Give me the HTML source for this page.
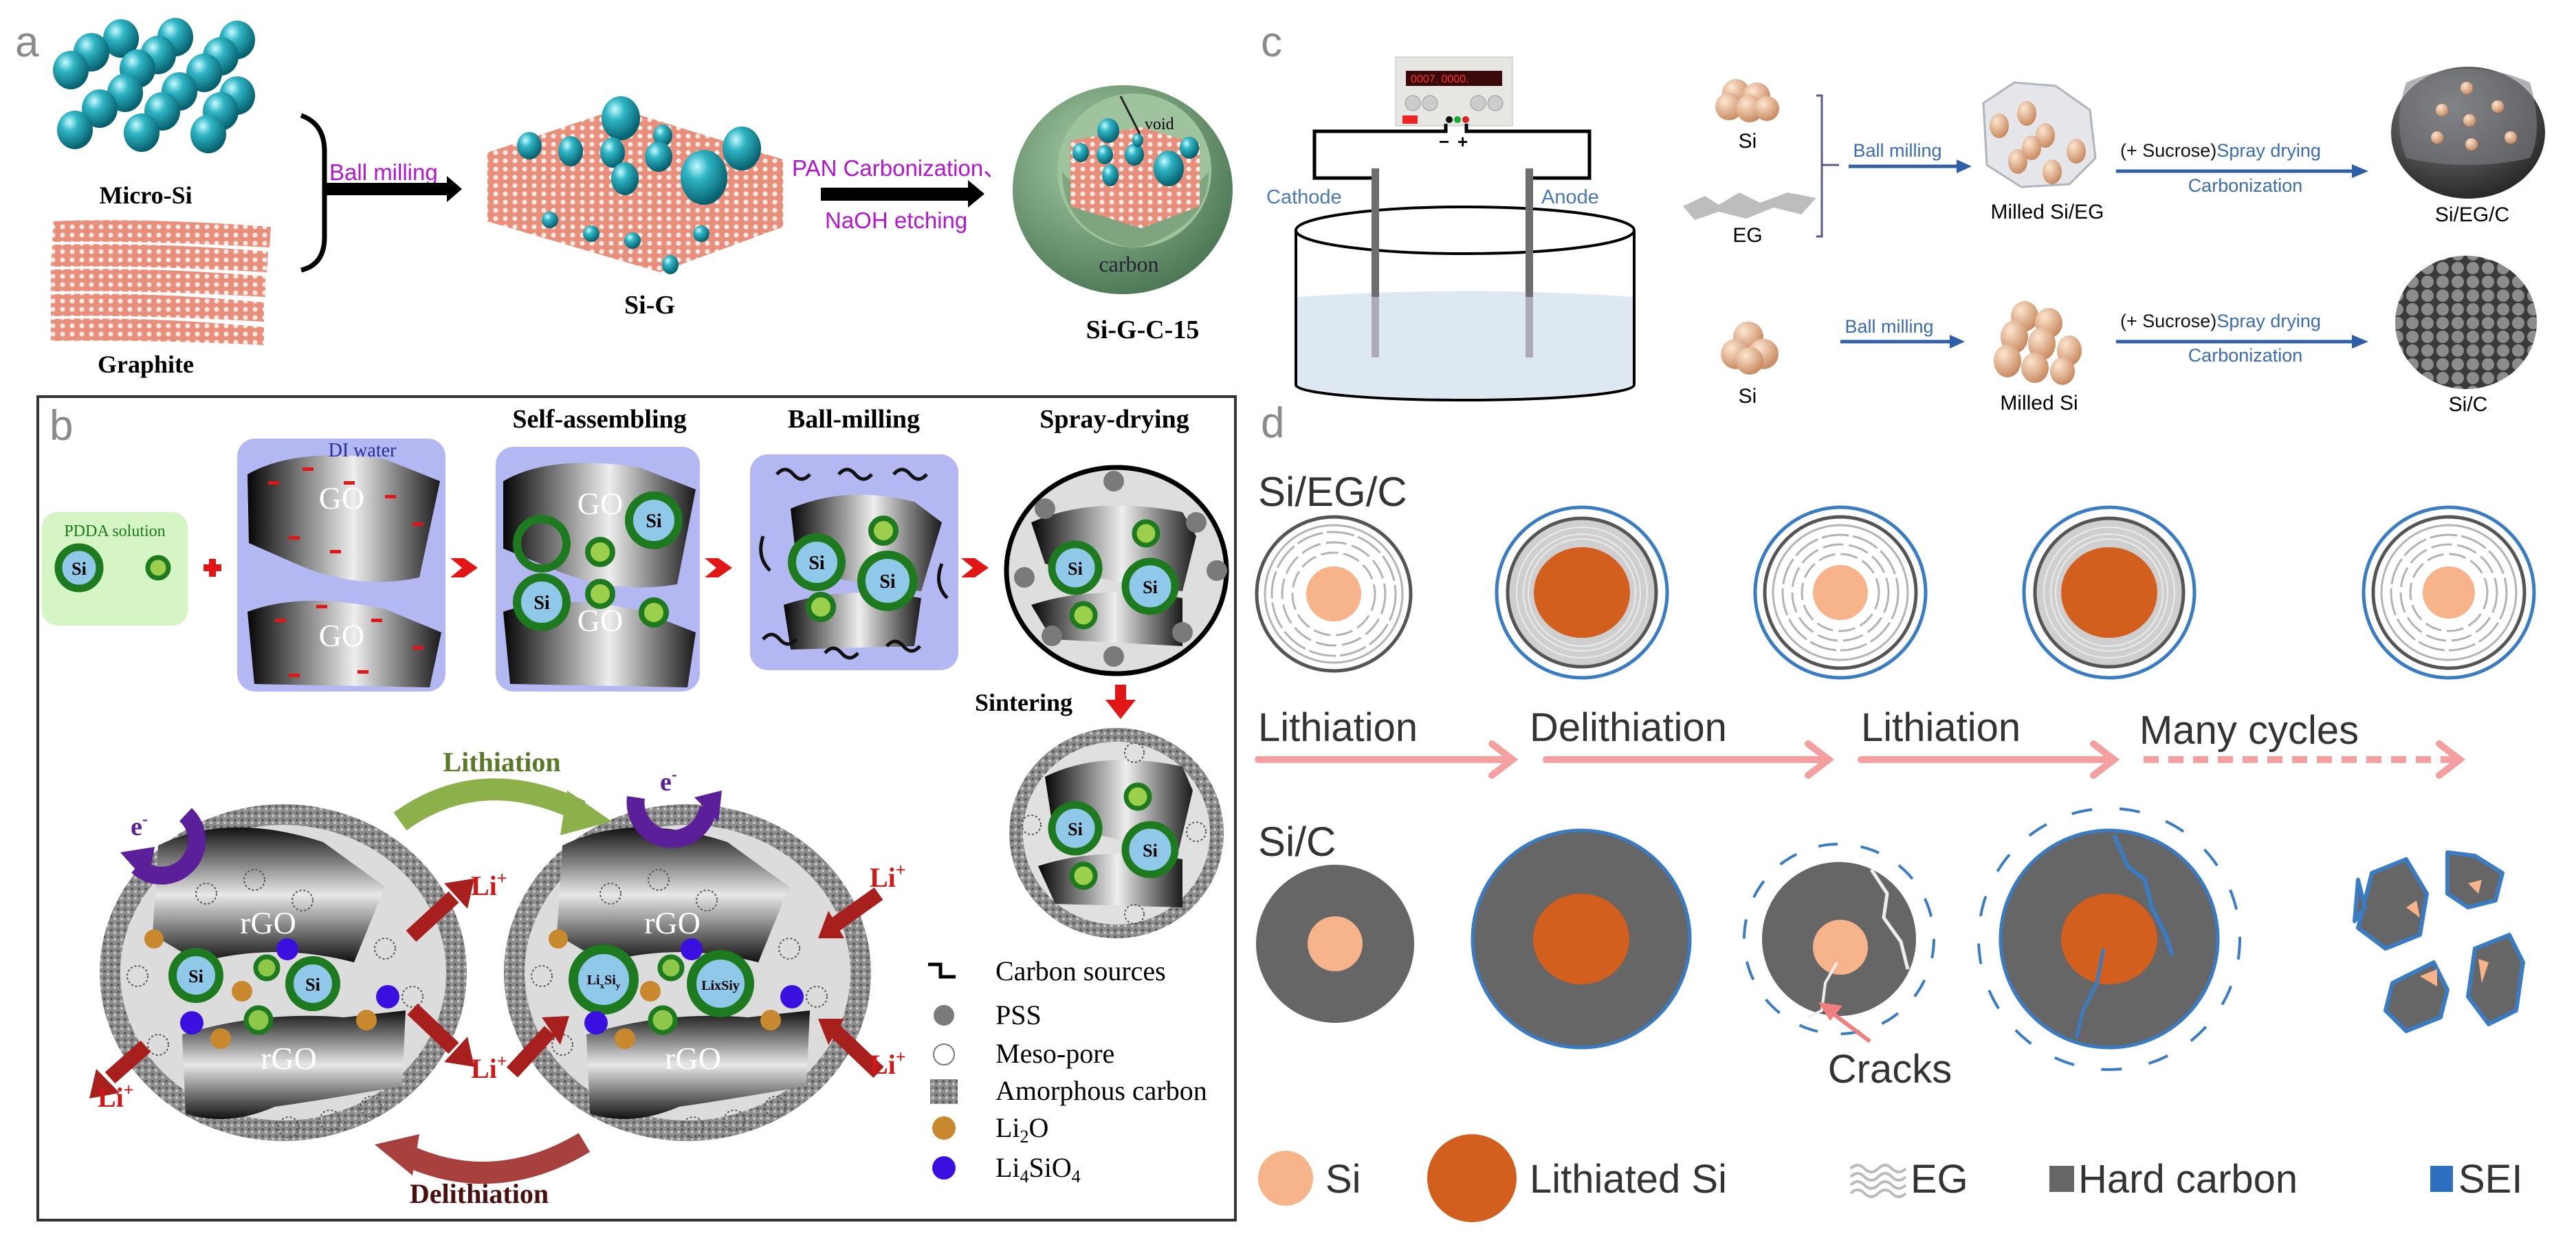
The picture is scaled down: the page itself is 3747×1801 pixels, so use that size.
<!DOCTYPE html>
<html><head><meta charset="utf-8"><style>
html,body{margin:0;padding:0;background:#fff;}
svg{display:block;}
.serif{font-family:"Liberation Serif",serif;}
.sans{font-family:"Liberation Sans",sans-serif;}
</style></head><body>
<svg width="3747" height="1801" viewBox="0 0 3747 1801" xmlns="http://www.w3.org/2000/svg">
<defs>
<radialGradient id="cy" cx="35%" cy="30%" r="70%"><stop offset="0" stop-color="#c8fbff"/><stop offset="0.35" stop-color="#2fb5c4"/><stop offset="1" stop-color="#06606e"/></radialGradient>
<radialGradient id="pk" cx="35%" cy="30%" r="70%"><stop offset="0" stop-color="#fde6d0"/><stop offset="1" stop-color="#c98c62"/></radialGradient>
<radialGradient id="gr" cx="40%" cy="35%" r="70%"><stop offset="0" stop-color="#a9cfa8"/><stop offset="1" stop-color="#4a7552"/></radialGradient>
<radialGradient id="ds" cx="40%" cy="30%" r="70%"><stop offset="0" stop-color="#8a8a8a"/><stop offset="1" stop-color="#2a2a2a"/></radialGradient>
<pattern id="hex" width="14" height="12" patternUnits="userSpaceOnUse"><rect width="14" height="12" fill="#e98e7a"/><circle cx="7" cy="6" r="3.6" fill="#fde9e4"/></pattern>
<pattern id="amo" width="10" height="10" patternUnits="userSpaceOnUse"><rect width="10" height="10" fill="#8c8c8c"/><circle cx="2" cy="3" r="2" fill="#5a5a5a"/><circle cx="7" cy="7" r="2" fill="#c4c4c4"/></pattern>
<pattern id="balls" width="22" height="20" patternUnits="userSpaceOnUse"><rect width="22" height="20" fill="#3a3a3a"/><circle cx="11" cy="10" r="9" fill="#8c8c8c"/></pattern>
<linearGradient id="go" x1="0" y1="0" x2="1" y2="0"><stop offset="0" stop-color="#050505"/><stop offset="0.55" stop-color="#eeeeee"/><stop offset="1" stop-color="#1a1a1a"/></linearGradient>
<linearGradient id="go2" x1="0" y1="0" x2="0" y2="1"><stop offset="0" stop-color="#111"/><stop offset="0.5" stop-color="#e8e8e8"/><stop offset="1" stop-color="#111"/></linearGradient>
</defs>

<!-- ============ PANEL A ============ -->
<text x="22" y="82" class="sans" font-size="62" fill="#8a8a8a">a</text>
<g fill="url(#cy)">
<ellipse cx="176" cy="56" rx="26" ry="28"/><ellipse cx="255" cy="54" rx="26" ry="28"/><ellipse cx="345" cy="58" rx="26" ry="28"/>
<ellipse cx="133" cy="76" rx="26" ry="28"/><ellipse cx="230" cy="80" rx="26" ry="28"/><ellipse cx="321" cy="82" rx="26" ry="28"/>
<ellipse cx="103" cy="102" rx="26" ry="28"/><ellipse cx="200" cy="100" rx="26" ry="28"/><ellipse cx="297" cy="106" rx="26" ry="28"/>
<ellipse cx="182" cy="135" rx="26" ry="28"/><ellipse cx="261" cy="133" rx="26" ry="28"/><ellipse cx="345" cy="139" rx="26" ry="28"/>
<ellipse cx="145" cy="158" rx="26" ry="28"/><ellipse cx="236" cy="162" rx="26" ry="28"/><ellipse cx="321" cy="162" rx="26" ry="28"/>
<ellipse cx="109" cy="189" rx="26" ry="28"/><ellipse cx="206" cy="193" rx="26" ry="28"/><ellipse cx="303" cy="195" rx="26" ry="28"/>
</g>
<text x="212" y="296" text-anchor="middle" class="serif" font-weight="bold" font-size="36">Micro-Si</text>
<g fill="url(#hex)">
<path d="M78 322 Q200 316 394 330 L392 360 Q220 350 76 352 Z"/>
<path d="M76 356 Q220 352 390 366 L388 396 Q220 386 74 388 Z"/>
<path d="M74 392 Q220 388 386 402 L386 432 Q220 422 74 424 Z"/>
<path d="M74 428 Q220 424 384 440 L384 468 Q220 458 74 460 Z"/>
<path d="M74 464 Q220 460 384 476 L384 502 Q220 494 74 496 Z"/>
</g>
<text x="212" y="542" text-anchor="middle" class="serif" font-weight="bold" font-size="36">Graphite</text>
<path d="M438 168 Q472 180 472 220 L472 345 Q472 385 438 393" fill="none" stroke="#000" stroke-width="7"/>
<text x="479" y="262" class="sans" font-size="33" fill="#b514d6">Ball milling</text>
<rect x="473" y="266" width="180" height="18" fill="#000"/><polygon points="650,256 672,275 650,294" fill="#000"/>
<polygon points="709,222 900,158 1139,232 1139,330 960,396 709,322" fill="url(#hex)"/>
<g fill="url(#cy)">
<ellipse cx="903" cy="172" rx="28" ry="32"/><ellipse cx="770" cy="212" rx="18" ry="20"/><ellipse cx="830" cy="220" rx="18" ry="22"/><ellipse cx="891" cy="222" rx="18" ry="22"/><ellipse cx="964" cy="197" rx="14" ry="16"/><ellipse cx="958" cy="228" rx="20" ry="22"/><ellipse cx="1079" cy="216" rx="28" ry="32"/><ellipse cx="1024" cy="258" rx="34" ry="40"/><ellipse cx="909" cy="260" rx="20" ry="24"/>
<ellipse cx="800" cy="320" rx="12" ry="12"/><ellipse cx="860" cy="340" rx="12" ry="12"/><ellipse cx="920" cy="350" rx="12" ry="12"/><ellipse cx="975" cy="385" rx="12" ry="14"/><ellipse cx="1020" cy="340" rx="12" ry="12"/>
</g>
<text x="945" y="456" text-anchor="middle" class="serif" font-weight="bold" font-size="38">Si-G</text>
<text x="1152" y="256" class="sans" font-size="33" fill="#b514d6">PAN Carbonization、</text>
<rect x="1194" y="273" width="218" height="19" fill="#000"/><polygon points="1408,262 1432,282 1408,302" fill="#000"/>
<text x="1200" y="332" class="sans" font-size="33" fill="#b514d6">NaOH etching</text>
<ellipse cx="1633" cy="276" rx="160" ry="152" fill="url(#gr)"/>
<ellipse cx="1650" cy="248" rx="112" ry="112" fill="#9fc39c"/>
<path d="M1545 250 Q1650 370 1758 250 Q1760 330 1650 362 Q1545 340 1545 250Z" fill="#7ea57d"/>
<polygon points="1557,205 1660,185 1745,210 1745,300 1660,332 1557,300" fill="url(#hex)"/>
<g fill="url(#cy)"><ellipse cx="1612" cy="190" rx="16" ry="18"/><ellipse cx="1572" cy="222" rx="12" ry="14"/><ellipse cx="1607" cy="225" rx="12" ry="14"/><ellipse cx="1650" cy="225" rx="14" ry="16"/><ellipse cx="1700" cy="245" rx="22" ry="26"/><ellipse cx="1615" cy="255" rx="12" ry="16"/><ellipse cx="1730" cy="215" rx="14" ry="16"/><ellipse cx="1655" cy="204" rx="8" ry="10"/></g>
<line x1="1630" y1="140" x2="1658" y2="195" stroke="#222" stroke-width="3"/>
<text x="1665" y="188" class="serif" font-size="24">void</text>
<text x="1642" y="395" text-anchor="middle" class="serif" font-size="32" fill="#223">carbon</text>
<text x="1662" y="492" text-anchor="middle" class="serif" font-weight="bold" font-size="38">Si-G-C-15</text>

<!-- ============ PANEL B ============ -->
<rect x="55" y="577" width="1742" height="1198" fill="none" stroke="#333" stroke-width="4"/>
<text x="72" y="640" class="sans" font-size="62" fill="#8a8a8a">b</text>
<text x="872" y="622" text-anchor="middle" class="serif" font-weight="bold" font-size="38">Self-assembling</text>
<text x="1242" y="622" text-anchor="middle" class="serif" font-weight="bold" font-size="38">Ball-milling</text>
<text x="1621" y="622" text-anchor="middle" class="serif" font-weight="bold" font-size="38">Spray-drying</text>

<rect x="61" y="745" width="212" height="165" rx="22" fill="#d5f5c5"/>
<text x="167" y="780" text-anchor="middle" class="serif" font-size="24" fill="#1a7a1a">PDDA solution</text>
<circle cx="115" cy="826" r="30" fill="#8fc8e8" stroke="#1e7a1e" stroke-width="11"/><text x="115" y="836" text-anchor="middle" class="serif" font-weight="bold" font-size="26">Si</text>
<circle cx="230" cy="826" r="15" fill="#9ccf4c" stroke="#1e7a1e" stroke-width="7"/>
<path d="M296 826 h26 M309 813 v26" stroke="#e21616" stroke-width="10"/>

<g id="goBox">
<rect x="345" y="638" width="303" height="368" rx="26" fill="#b4b8f2"/>
<path d="M360 690 Q430 650 560 668 L640 700 L610 840 Q520 860 430 820 L362 790 Z" fill="url(#go)"/>
<path d="M360 890 Q440 860 560 886 L642 920 L625 1000 L370 995 Z" fill="url(#go)"/>
</g>
<text x="527" y="664" text-anchor="middle" class="serif" font-size="28" fill="#2a2a9a">DI water</text>
<text x="497" y="740" text-anchor="middle" class="serif" font-size="46" fill="#fff">GO</text>
<text x="497" y="940" text-anchor="middle" class="serif" font-size="46" fill="#fff">GO</text>
<g fill="#e21616"><rect x="390" y="700" width="16" height="5"/><rect x="440" y="680" width="16" height="5"/><rect x="500" y="700" width="16" height="5"/><rect x="560" y="720" width="16" height="5"/><rect x="600" y="760" width="16" height="5"/><rect x="420" y="780" width="16" height="5"/><rect x="480" y="800" width="16" height="5"/><rect x="400" y="900" width="16" height="5"/><rect x="460" y="880" width="16" height="5"/><rect x="540" y="900" width="16" height="5"/><rect x="600" y="940" width="16" height="5"/><rect x="420" y="980" width="16" height="5"/><rect x="520" y="975" width="16" height="5"/></g>

<rect x="721" y="650" width="297" height="356" rx="26" fill="#b4b8f2"/>
<path d="M732 700 Q800 660 930 680 L1012 712 L985 850 Q890 866 800 826 L732 798 Z" fill="url(#go)"/>
<path d="M732 890 Q810 862 930 888 L1012 920 L1000 1000 L742 995 Z" fill="url(#go)"/>
<text x="873" y="748" text-anchor="middle" class="serif" font-size="46" fill="#fff">GO</text>
<text x="873" y="918" text-anchor="middle" class="serif" font-size="46" fill="#fff">GO</text>
<circle cx="951" cy="757" r="36" fill="#8fc8e8" stroke="#1e7a1e" stroke-width="12"/><text x="951" y="767" text-anchor="middle" class="serif" font-weight="bold" font-size="28">Si</text>
<circle cx="788" cy="791" r="36" fill="none" stroke="#1e7a1e" stroke-width="12"/>
<circle cx="788" cy="876" r="36" fill="#8fc8e8" stroke="#1e7a1e" stroke-width="12"/><text x="788" y="886" text-anchor="middle" class="serif" font-weight="bold" font-size="28">Si</text>
<circle cx="873" cy="803" r="18" fill="#9ccf4c" stroke="#1e7a1e" stroke-width="8"/><circle cx="873" cy="864" r="18" fill="#9ccf4c" stroke="#1e7a1e" stroke-width="8"/><circle cx="951" cy="891" r="18" fill="#9ccf4c" stroke="#1e7a1e" stroke-width="8"/>

<rect x="1091" y="661" width="303" height="314" rx="26" fill="#b4b8f2"/>
<path d="M1150 740 Q1230 705 1330 730 L1370 760 L1340 860 Q1250 850 1160 830 Z" fill="url(#go)"/>
<path d="M1140 880 Q1230 850 1340 870 L1330 940 L1150 945 Z" fill="url(#go)"/>
<g fill="none" stroke="#111" stroke-width="5"><path d="M1130 690 q12 -14 24 0 t24 0"/><path d="M1220 690 q12 -14 24 0 t24 0"/><path d="M1300 690 q12 -14 24 0 t24 0"/><path d="M1110 780 q-10 30 10 50"/><path d="M1370 820 q-12 30 8 50"/><path d="M1110 930 q12 -14 24 0 t24 0"/><path d="M1200 950 q12 -14 24 0 t24 0"/><path d="M1290 940 q12 -14 24 0 t24 0"/></g>
<circle cx="1188" cy="818" r="36" fill="#8fc8e8" stroke="#1e7a1e" stroke-width="12"/><text x="1188" y="828" text-anchor="middle" class="serif" font-weight="bold" font-size="28">Si</text>
<circle cx="1291" cy="845" r="38" fill="#8fc8e8" stroke="#1e7a1e" stroke-width="12"/><text x="1291" y="855" text-anchor="middle" class="serif" font-weight="bold" font-size="28">Si</text>
<circle cx="1285" cy="772" r="18" fill="#9ccf4c" stroke="#1e7a1e" stroke-width="8"/><circle cx="1194" cy="883" r="18" fill="#9ccf4c" stroke="#1e7a1e" stroke-width="8"/>

<g fill="#e21616">
<polygon points="655,812 675,812 695,826 675,840 655,840 672,826"/>
<polygon points="1025,812 1045,812 1065,826 1045,840 1025,840 1042,826"/>
<polygon points="1398,812 1418,812 1438,826 1418,840 1398,840 1415,826"/>
</g>

<ellipse cx="1624" cy="830" rx="160" ry="150" fill="#dedede" stroke="#000" stroke-width="7"/>
<path d="M1500 760 Q1590 720 1720 745 L1740 780 L1720 860 Q1620 850 1520 820 Z" fill="url(#go)"/>
<path d="M1500 880 Q1590 850 1720 870 L1720 940 L1530 930 Z" fill="url(#go)"/>
<g fill="#7a7a7a"><circle cx="1620" cy="700" r="15"/><circle cx="1520" cy="740" r="15"/><circle cx="1740" cy="760" r="15"/><circle cx="1490" cy="840" r="15"/><circle cx="1770" cy="830" r="15"/><circle cx="1530" cy="925" r="15"/><circle cx="1720" cy="920" r="15"/><circle cx="1620" cy="955" r="15"/></g>
<circle cx="1564" cy="826" r="34" fill="#8fc8e8" stroke="#1e7a1e" stroke-width="11"/><text x="1564" y="836" text-anchor="middle" class="serif" font-weight="bold" font-size="26">Si</text>
<circle cx="1673" cy="853" r="36" fill="#8fc8e8" stroke="#1e7a1e" stroke-width="11"/><text x="1673" y="863" text-anchor="middle" class="serif" font-weight="bold" font-size="26">Si</text>
<circle cx="1667" cy="776" r="17" fill="#9ccf4c" stroke="#1e7a1e" stroke-width="7"/><circle cx="1576" cy="895" r="17" fill="#9ccf4c" stroke="#1e7a1e" stroke-width="7"/>

<text x="1418" y="1034" class="serif" font-weight="bold" font-size="36">Sintering</text>
<polygon points="1622,996 1638,996 1638,1018 1652,1018 1630,1046 1608,1018 1622,1018" fill="#e21616"/>
<ellipse cx="1624" cy="1212" rx="146" ry="143" fill="#e0e0e0" stroke="url(#amo)" stroke-width="20"/>
<path d="M1520 1130 Q1600 1090 1720 1115 L1735 1150 L1715 1235 Q1620 1225 1530 1195 Z" fill="url(#go)"/>
<path d="M1510 1260 Q1600 1230 1720 1250 L1720 1320 L1535 1315 Z" fill="url(#go)"/>
<circle cx="1564" cy="1205" r="34" fill="#8fc8e8" stroke="#1e7a1e" stroke-width="11"/><text x="1564" y="1215" text-anchor="middle" class="serif" font-weight="bold" font-size="26">Si</text>
<circle cx="1673" cy="1236" r="36" fill="#8fc8e8" stroke="#1e7a1e" stroke-width="11"/><text x="1673" y="1246" text-anchor="middle" class="serif" font-weight="bold" font-size="26">Si</text>
<circle cx="1655" cy="1159" r="17" fill="#9ccf4c" stroke="#1e7a1e" stroke-width="7"/><circle cx="1576" cy="1274" r="17" fill="#9ccf4c" stroke="#1e7a1e" stroke-width="7"/>
<g fill="none" stroke="#555" stroke-width="2" stroke-dasharray="3 3"><circle cx="1650" cy="1095" r="14"/><circle cx="1500" cy="1200" r="14"/><circle cx="1740" cy="1210" r="14"/><circle cx="1650" cy="1330" r="14"/></g>

<!-- big circles -->
<g id="bigL">
<ellipse cx="412" cy="1415" rx="252" ry="230" fill="#dcdcdc" stroke="url(#amo)" stroke-width="30"/>
<path d="M230 1230 Q330 1180 470 1225 L560 1290 L515 1400 Q400 1370 290 1400 L222 1360 Z" fill="url(#go2)"/>
<path d="M265 1505 Q380 1470 500 1480 L590 1470 L585 1580 Q470 1600 400 1610 Q330 1640 270 1620 Z" fill="url(#go2)"/>
<g fill="none" stroke="#555" stroke-width="2" stroke-dasharray="3 3"><circle cx="300" cy="1300" r="15"/><circle cx="370" cy="1280" r="15"/><circle cx="440" cy="1310" r="15"/><circle cx="560" cy="1380" r="15"/><circle cx="200" cy="1420" r="15"/><circle cx="230" cy="1520" r="15"/><circle cx="600" cy="1450" r="15"/><circle cx="420" cy="1640" r="15"/><circle cx="480" cy="1630" r="15"/><circle cx="540" cy="1610" r="15"/></g>
</g>
<g fill="#fff" class="serif" font-size="46" text-anchor="middle"><text x="390" y="1358">rGO</text><text x="420" y="1555">rGO</text></g>
<circle cx="285" cy="1419" r="34" fill="#8fc8e8" stroke="#1e7a1e" stroke-width="12"/><text x="285" y="1429" text-anchor="middle" class="serif" font-weight="bold" font-size="26">Si</text>
<circle cx="455" cy="1431" r="34" fill="#8fc8e8" stroke="#1e7a1e" stroke-width="12"/><text x="455" y="1441" text-anchor="middle" class="serif" font-weight="bold" font-size="26">Si</text>
<g fill="#c8882e"><circle cx="352" cy="1442" r="15"/><circle cx="321" cy="1511" r="15"/><circle cx="533" cy="1484" r="15"/><circle cx="224" cy="1366" r="14"/></g>
<g fill="#8dc84a" stroke="#1e7a1e" stroke-width="7"><circle cx="388" cy="1408" r="16"/><circle cx="376" cy="1484" r="18"/></g>
<g fill="#3a10e0"><circle cx="418" cy="1381" r="16"/><circle cx="564" cy="1450" r="17"/><circle cx="279" cy="1488" r="17"/></g>

<ellipse cx="1000" cy="1415" rx="252" ry="230" fill="#dcdcdc" stroke="url(#amo)" stroke-width="30"/>
<path d="M818 1230 Q918 1180 1058 1225 L1148 1290 L1103 1400 Q988 1370 878 1400 L810 1360 Z" fill="url(#go2)"/>
<path d="M853 1505 Q968 1470 1088 1480 L1178 1470 L1173 1580 Q1058 1600 988 1610 Q918 1640 858 1620 Z" fill="url(#go2)"/>
<g fill="none" stroke="#555" stroke-width="2" stroke-dasharray="3 3"><circle cx="888" cy="1300" r="15"/><circle cx="958" cy="1280" r="15"/><circle cx="1028" cy="1310" r="15"/><circle cx="1148" cy="1380" r="15"/><circle cx="788" cy="1420" r="15"/><circle cx="818" cy="1520" r="15"/><circle cx="1188" cy="1450" r="15"/><circle cx="1008" cy="1640" r="15"/><circle cx="1068" cy="1630" r="15"/><circle cx="1128" cy="1610" r="15"/></g>
<g fill="#fff" class="serif" font-size="46" text-anchor="middle"><text x="978" y="1358">rGO</text><text x="1008" y="1555">rGO</text></g>
<circle cx="878" cy="1425" r="44" fill="#8fc8e8" stroke="#1e7a1e" stroke-width="14"/><text x="878" y="1432" text-anchor="middle" class="serif" font-weight="bold" font-size="20">Li<tspan font-size="13" dy="6">x</tspan><tspan dy="-6">Si</tspan><tspan font-size="13" dy="6">y</tspan></text>
<circle cx="1048" cy="1431" r="42" fill="#8fc8e8" stroke="#1e7a1e" stroke-width="14"/><text x="1048" y="1440" text-anchor="middle" class="serif" font-weight="bold" font-size="20">LixSiy</text>
<g fill="#c8882e"><circle cx="946" cy="1442" r="15"/><circle cx="909" cy="1511" r="15"/><circle cx="1121" cy="1484" r="15"/><circle cx="812" cy="1366" r="14"/></g>
<g fill="#8dc84a" stroke="#1e7a1e" stroke-width="7"><circle cx="976" cy="1408" r="16"/><circle cx="964" cy="1484" r="18"/></g>
<g fill="#3a10e0"><circle cx="1006" cy="1381" r="16"/><circle cx="1152" cy="1450" r="17"/><circle cx="867" cy="1488" r="17"/></g>

<!-- Li+ arrows -->
<g stroke="#a8201e" stroke-width="22" fill="none">
<line x1="598" y1="1362" x2="660" y2="1305"/><line x1="600" y1="1468" x2="660" y2="1525"/><line x1="212" y1="1522" x2="160" y2="1568"/>
<line x1="1278" y1="1300" x2="1215" y2="1345"/><line x1="1278" y1="1560" x2="1215" y2="1500"/><line x1="745" y1="1560" x2="800" y2="1500"/>
</g>
<g fill="#a8201e">
<polygon points="646,1285 690,1278 680,1322"/><polygon points="646,1545 690,1552 680,1508"/><polygon points="174,1590 130,1598 140,1555"/>
<polygon points="1228,1365 1190,1365 1205,1325"/><polygon points="1228,1482 1190,1482 1205,1520"/><polygon points="788,1480 828,1478 815,1520"/>
</g>
<g class="serif" font-weight="bold" font-size="40" fill="#d01818">
<text x="685" y="1302">Li<tspan font-size="26" dy="-16">+</tspan></text>
<text x="142" y="1610">Li<tspan font-size="26" dy="-16">+</tspan></text>
<text x="685" y="1568">Li<tspan font-size="26" dy="-16">+</tspan></text>
<text x="1265" y="1290">Li<tspan font-size="26" dy="-16">+</tspan></text>
<text x="1265" y="1562">Li<tspan font-size="26" dy="-16">+</tspan></text>
</g>
<!-- e- arcs -->
<path d="M270 1185 A48 48 0 1 1 200 1260" fill="none" stroke="#5b1f9a" stroke-width="26"/><polygon points="175,1240 215,1285 225,1232" fill="#5b1f9a"/>
<text x="190" y="1215" class="serif" font-weight="bold" font-size="38" fill="#5b1f9a">e<tspan font-size="24" dy="-16">-</tspan></text>
<path d="M925 1160 A50 50 0 1 0 1030 1175" fill="none" stroke="#5b1f9a" stroke-width="26"/><polygon points="1010,1160 1050,1150 1045,1195" fill="#5b1f9a"/>
<text x="960" y="1150" class="serif" font-weight="bold" font-size="38" fill="#5b1f9a">e<tspan font-size="24" dy="-16">-</tspan></text>
<!-- lithiation / delithiation -->
<text x="730" y="1122" text-anchor="middle" class="serif" font-weight="bold" font-size="40" fill="#5a7a2a">Lithiation</text>
<path d="M582 1195 Q700 1110 845 1180" fill="none" stroke="#8cb04a" stroke-width="32"/><polygon points="825,1150 890,1195 815,1215" fill="#8cb04a"/>
<path d="M850 1662 Q720 1740 590 1680" fill="none" stroke="#a8413e" stroke-width="32"/><polygon points="610,1650 545,1665 600,1710" fill="#a8413e"/>
<text x="697" y="1750" text-anchor="middle" class="serif" font-weight="bold" font-size="40" fill="#4a1010">Delithiation</text>
<!-- legend -->
<path d="M1350 1403 h18 v18 h22" fill="none" stroke="#000" stroke-width="5"/>
<circle cx="1373" cy="1477" r="15" fill="#7a7a7a"/>
<circle cx="1373" cy="1534" r="15" fill="#fff" stroke="#777" stroke-width="2"/>
<rect x="1353" y="1570" width="40" height="36" fill="url(#amo)"/>
<circle cx="1373" cy="1641" r="17" fill="#c8882e"/>
<circle cx="1373" cy="1699" r="17" fill="#3a10e0"/>
<g class="serif" font-size="40">
<text x="1448" y="1426">Carbon sources</text><text x="1448" y="1490">PSS</text><text x="1448" y="1546">Meso-pore</text><text x="1448" y="1600">Amorphous carbon</text>
<text x="1448" y="1654">Li<tspan font-size="26" dy="8">2</tspan><tspan dy="-8">O</tspan></text>
<text x="1448" y="1712">Li<tspan font-size="26" dy="8">4</tspan><tspan dy="-8">SiO</tspan><tspan font-size="26" dy="8">4</tspan></text>
</g>

<!-- ============ PANEL C ============ -->
<text x="1834" y="82" class="sans" font-size="62" fill="#8a8a8a">c</text>
<rect x="2030" y="83" width="170" height="100" fill="#e6e6e2" stroke="#bbb"/>
<rect x="2045" y="103" width="140" height="22" fill="#3a0a0a"/><text x="2052" y="120" class="sans" font-size="16" fill="#f33">0007. 0000.</text>
<circle cx="2055" cy="150" r="11" fill="#ccc" stroke="#999"/><circle cx="2080" cy="150" r="11" fill="#ccc" stroke="#999"/><circle cx="2150" cy="150" r="11" fill="#ccc" stroke="#999"/><circle cx="2175" cy="150" r="11" fill="#ccc" stroke="#999"/>
<rect x="2040" y="168" width="22" height="12" fill="#e22"/><circle cx="2108" cy="174" r="5" fill="#111"/><circle cx="2120" cy="174" r="5" fill="#1a3"/><circle cx="2132" cy="174" r="5" fill="#d22"/>
<path d="M2103 180 V191 H1912 V259 H2000 M2133 180 V191 H2312 V259 H2224" fill="none" stroke="#000" stroke-width="5"/>
<text x="2093" y="215" class="sans" font-size="26" font-weight="bold">−</text><text x="2120" y="215" class="sans" font-size="26" font-weight="bold">+</text>
<text x="1842" y="296" class="sans" font-size="29" fill="#4a78b8">Cathode</text>
<text x="2242" y="296" class="sans" font-size="29" fill="#4a78b8">Anode</text>
<path d="M1887 432 Q2131 415 2375 432 V560 A246 22 0 0 1 1887 560 Z" fill="#dde8f3"/>
<ellipse cx="2131" cy="335" rx="246" ry="34" fill="none" stroke="#000" stroke-width="4"/>
<path d="M1885 335 V560 A246 22 0 0 0 2377 560 V335" fill="none" stroke="#000" stroke-width="4"/>
<rect x="1995" y="245" width="11" height="275" fill="#6e6e6e"/><rect x="2219" y="245" width="11" height="275" fill="#6e6e6e"/>
<rect x="1995" y="432" width="11" height="88" fill="#aab"/><rect x="2219" y="432" width="11" height="88" fill="#aab"/>
<!-- row1 -->
<g fill="url(#pk)"><circle cx="2525" cy="135" r="20"/><circle cx="2555" cy="140" r="20"/><circle cx="2515" cy="155" r="20"/><circle cx="2545" cy="158" r="20"/><circle cx="2570" cy="158" r="18"/></g>
<text x="2542" y="215" text-anchor="middle" class="sans" font-size="30">Si</text>
<path d="M2448 300 L2480 285 L2500 298 L2530 280 L2560 295 L2600 280 L2642 288 L2620 312 L2580 302 L2540 318 L2500 308 L2465 320 Z" fill="#bdbdbd"/>
<text x="2542" y="352" text-anchor="middle" class="sans" font-size="30">EG</text>
<path d="M2642 139 H2650 V344 H2642 M2650 240 H2675" fill="none" stroke="#5a5a8a" stroke-width="3"/>
<text x="2760" y="228" text-anchor="middle" class="sans" font-size="27" fill="#3b6bb0">Ball milling</text>
<line x1="2689" y1="242" x2="2850" y2="242" stroke="#2f5fa8" stroke-width="5"/><polygon points="2846,232 2868,242 2846,252" fill="#2f5fa8"/>
<path d="M2885 150 L2930 120 L2990 125 L3040 160 L3048 230 L3010 268 L2940 272 L2890 240 Z" fill="#e4e6ea" stroke="#b0b4bc" stroke-width="3"/>
<g fill="url(#pk)"><ellipse cx="2948" cy="165" rx="14" ry="18"/><ellipse cx="2908" cy="183" rx="14" ry="18"/><ellipse cx="2975" cy="197" rx="14" ry="18"/><ellipse cx="2955" cy="215" rx="14" ry="18"/><ellipse cx="3020" cy="220" rx="14" ry="18"/><ellipse cx="2935" cy="235" rx="14" ry="18"/><ellipse cx="2985" cy="250" rx="14" ry="18"/></g>
<text x="2978" y="318" text-anchor="middle" class="sans" font-size="30">Milled Si/EG</text>
<text x="3084" y="228" class="sans" font-size="27"><tspan fill="#111">(+ Sucrose)</tspan><tspan fill="#3b6bb0">Spray drying</tspan></text>
<line x1="3078" y1="249" x2="3425" y2="249" stroke="#2f5fa8" stroke-width="5"/><polygon points="3421,239 3445,249 3421,259" fill="#2f5fa8"/>
<text x="3266" y="279" text-anchor="middle" class="sans" font-size="27" fill="#3b6bb0">Carbonization</text>
<ellipse cx="3590" cy="193" rx="112" ry="96" fill="url(#ds)"/>
<path d="M3500 120 Q3590 80 3680 120 Q3700 190 3680 230 Q3590 250 3500 230 Q3480 180 3500 120Z" fill="#7b7f86" opacity="0.6"/>
<g fill="url(#pk)"><circle cx="3588" cy="128" r="9"/><circle cx="3552" cy="160" r="9"/><circle cx="3633" cy="155" r="9"/><circle cx="3592" cy="175" r="9"/><circle cx="3545" cy="200" r="9"/><circle cx="3595" cy="210" r="9"/><circle cx="3652" cy="200" r="9"/></g>
<text x="3596" y="322" text-anchor="middle" class="sans" font-size="30">Si/EG/C</text>
<!-- row2 -->
<g fill="url(#pk)"><circle cx="2543" cy="490" r="22"/><circle cx="2525" cy="515" r="22"/><circle cx="2565" cy="515" r="22"/><circle cx="2545" cy="525" r="20"/></g>
<text x="2542" y="586" text-anchor="middle" class="sans" font-size="30">Si</text>
<text x="2748" y="484" text-anchor="middle" class="sans" font-size="27" fill="#3b6bb0">Ball milling</text>
<line x1="2677" y1="497" x2="2840" y2="497" stroke="#2f5fa8" stroke-width="5"/><polygon points="2836,487 2858,497 2836,507" fill="#2f5fa8"/>
<g fill="url(#pk)"><ellipse cx="2945" cy="460" rx="20" ry="22"/><ellipse cx="2980" cy="470" rx="20" ry="22"/><ellipse cx="2930" cy="490" rx="20" ry="24"/><ellipse cx="2970" cy="500" rx="20" ry="24"/><ellipse cx="3010" cy="510" rx="18" ry="22"/><ellipse cx="2920" cy="525" rx="20" ry="24"/><ellipse cx="2960" cy="535" rx="20" ry="22"/><ellipse cx="3000" cy="540" rx="18" ry="20"/></g>
<text x="2966" y="596" text-anchor="middle" class="sans" font-size="30">Milled Si</text>
<text x="3084" y="476" class="sans" font-size="27"><tspan fill="#111">(+ Sucrose)</tspan><tspan fill="#3b6bb0">Spray drying</tspan></text>
<line x1="3078" y1="497" x2="3425" y2="497" stroke="#2f5fa8" stroke-width="5"/><polygon points="3421,487 3445,497 3421,507" fill="#2f5fa8"/>
<text x="3266" y="526" text-anchor="middle" class="sans" font-size="27" fill="#3b6bb0">Carbonization</text>
<ellipse cx="3587" cy="469" rx="103" ry="97" fill="url(#balls)"/>
<text x="3590" y="598" text-anchor="middle" class="sans" font-size="30">Si/C</text>

<!-- ============ PANEL D ============ -->
<text x="1834" y="636" class="sans" font-size="62" fill="#8a8a8a">d</text>
<text x="1830" y="736" class="sans" font-size="60" fill="#333">Si/EG/C</text>
<text x="1830" y="1245" class="sans" font-size="60" fill="#333">Si/C</text>
<!-- EG row -->
<g fill="none" stroke="#b3b3b3" stroke-width="3">
<circle cx="1940" cy="864" r="90" stroke-dasharray="40 6"/><circle cx="1940" cy="864" r="75" stroke-dasharray="30 8"/><circle cx="1940" cy="864" r="60" stroke-dasharray="25 8"/><circle cx="1940" cy="864" r="100"/>
<circle cx="2677" cy="862" r="98"/><circle cx="2677" cy="862" r="84" stroke-dasharray="40 6"/><circle cx="2677" cy="862" r="70" stroke-dasharray="30 8"/><circle cx="2677" cy="862" r="56" stroke-dasharray="25 8"/>
<circle cx="3562" cy="862" r="98"/><circle cx="3562" cy="862" r="84" stroke-dasharray="40 6"/><circle cx="3562" cy="862" r="70" stroke-dasharray="30 8"/><circle cx="3562" cy="862" r="56" stroke-dasharray="25 8"/>
</g>
<circle cx="1940" cy="864" r="112" fill="none" stroke="#555" stroke-width="5"/>
<circle cx="1940" cy="864" r="40" fill="#f7b48b"/>
<circle cx="2301" cy="862" r="108" fill="#cfcfcf" stroke="#555" stroke-width="5"/>
<g fill="none" stroke="#ebebeb" stroke-width="2"><circle cx="2301" cy="862" r="95"/><circle cx="2301" cy="862" r="85"/><circle cx="2301" cy="862" r="78"/></g>
<circle cx="2301" cy="862" r="124" fill="none" stroke="#3a7cc4" stroke-width="5"/>
<ellipse cx="2301" cy="862" rx="70" ry="66" fill="#d35f1f"/>
<circle cx="2677" cy="862" r="110" fill="none" stroke="#555" stroke-width="5"/>
<circle cx="2677" cy="862" r="124" fill="none" stroke="#3a7cc4" stroke-width="5"/>
<circle cx="2677" cy="862" r="40" fill="#f7b48b"/>
<circle cx="3068" cy="862" r="108" fill="#cfcfcf" stroke="#555" stroke-width="5"/>
<g fill="none" stroke="#ebebeb" stroke-width="2"><circle cx="3068" cy="862" r="95"/><circle cx="3068" cy="862" r="85"/><circle cx="3068" cy="862" r="78"/></g>
<circle cx="3068" cy="862" r="124" fill="none" stroke="#3a7cc4" stroke-width="5"/>
<ellipse cx="3068" cy="862" rx="70" ry="66" fill="#d35f1f"/>
<circle cx="3562" cy="862" r="110" fill="none" stroke="#555" stroke-width="5"/>
<circle cx="3562" cy="862" r="124" fill="none" stroke="#3a7cc4" stroke-width="5"/>
<circle cx="3562" cy="862" r="38" fill="#f7b48b"/>
<!-- labels + arrows -->
<g class="sans" font-size="58" fill="#333"><text x="1830" y="1078">Lithiation</text><text x="2225" y="1078">Delithiation</text><text x="2707" y="1078">Lithiation</text><text x="3112" y="1082">Many cycles</text></g>
<g stroke="#f4a0a0" stroke-width="10" fill="none" stroke-linecap="round">
<line x1="1830" y1="1105" x2="2195" y2="1105"/><polyline points="2170,1082 2200,1105 2170,1128"/>
<line x1="2249" y1="1105" x2="2655" y2="1105"/><polyline points="2630,1082 2660,1105 2630,1128"/>
<line x1="2707" y1="1105" x2="3070" y2="1105"/><polyline points="3045,1082 3075,1105 3045,1128"/>
<line x1="3118" y1="1105" x2="3570" y2="1105" stroke-dasharray="22 14" stroke-linecap="butt"/><polyline points="3548,1082 3578,1105 3548,1128"/>
</g>
<!-- Si/C row -->
<circle cx="1942" cy="1373" r="115" fill="#666"/><circle cx="1942" cy="1373" r="40" fill="#f7b48b"/>
<circle cx="2300" cy="1366" r="158" fill="#666" stroke="#3a7cc4" stroke-width="5"/><ellipse cx="2300" cy="1366" rx="70" ry="66" fill="#d35f1f"/>
<circle cx="2675" cy="1366" r="112" fill="#666"/><circle cx="2677" cy="1378" r="40" fill="#f7b48b"/>
<path d="M2722 1265 L2745 1300 L2740 1335 L2765 1370 L2775 1410" fill="none" stroke="#eee" stroke-width="5"/>
<path d="M2672 1400 L2655 1430 L2650 1470 L2630 1480" fill="none" stroke="#eee" stroke-width="4"/>
<circle cx="2675" cy="1366" r="138" fill="none" stroke="#3a7cc4" stroke-width="4" stroke-dasharray="28 34"/>
<line x1="2720" y1="1515" x2="2660" y2="1470" stroke="#f08080" stroke-width="6"/><polygon points="2645,1458 2680,1463 2662,1485" fill="#f08080"/>
<text x="2749" y="1575" text-anchor="middle" class="sans" font-size="58" fill="#333">Cracks</text>
<circle cx="3068" cy="1366" r="158" fill="#666" stroke="#3a7cc4" stroke-width="5"/><ellipse cx="3068" cy="1366" rx="70" ry="66" fill="#d35f1f"/>
<path d="M3075 1215 L3095 1260 L3120 1280 L3130 1320 L3150 1360 L3160 1390" fill="none" stroke="#3a7cc4" stroke-width="6"/>
<path d="M3060 1380 L3050 1430 L3030 1470 L3020 1510" fill="none" stroke="#3a7cc4" stroke-width="5"/>
<circle cx="3068" cy="1366" r="190" fill="none" stroke="#3a7cc4" stroke-width="4" stroke-dasharray="30 40"/>
<!-- fragments -->
<g fill="#666" stroke="#3a7cc4" stroke-width="6" stroke-linejoin="round">
<path d="M3450 1270 L3500 1250 L3530 1300 L3520 1360 L3470 1380 L3430 1350 L3440 1310 Z"/>
<path d="M3560 1240 L3600 1245 L3640 1270 L3630 1310 L3590 1320 L3560 1300 Z"/>
<path d="M3480 1430 L3540 1400 L3560 1440 L3550 1480 L3500 1500 L3470 1470 Z"/>
<path d="M3600 1380 L3650 1360 L3670 1400 L3660 1470 L3620 1490 L3590 1450 Z"/>
<path d="M3430 1280 L3440 1320 L3425 1340 Z"/>
</g>
<g fill="#f7b48b"><path d="M3500 1320 l15 -10 5 25 z"/><path d="M3590 1285 l20 -5 -5 20 z"/><path d="M3520 1420 l25 -10 0 25 z"/><path d="M3605 1395 l15 5 -10 30 z"/></g>
<!-- legend -->
<circle cx="1870" cy="1714" r="40" fill="#f7b48b"/>
<text x="1928" y="1735" class="sans" font-size="58" fill="#333">Si</text>
<ellipse cx="2141" cy="1714" rx="65" ry="64" fill="#d35f1f"/>
<text x="2225" y="1735" class="sans" font-size="58" fill="#333">Lithiated Si</text>
<g fill="none" stroke="#bbb" stroke-width="4"><path d="M2692 1700 q10 -10 20 0 t20 0 t20 0 t20 0"/><path d="M2692 1712 q10 -10 20 0 t20 0 t20 0 t20 0"/><path d="M2692 1724 q10 -10 20 0 t20 0 t20 0 t20 0"/><path d="M2692 1736 q10 -10 20 0 t20 0 t20 0 t20 0"/></g>
<text x="2779" y="1735" class="sans" font-size="58" fill="#333">EG</text>
<rect x="2981" y="1696" width="36" height="38" fill="#666"/>
<text x="3023" y="1735" class="sans" font-size="58" fill="#333">Hard carbon</text>
<rect x="3535" y="1696" width="33" height="38" fill="#2e6fc0"/>
<text x="3576" y="1735" class="sans" font-size="58" fill="#333">SEI</text>
</svg>
</body></html>
